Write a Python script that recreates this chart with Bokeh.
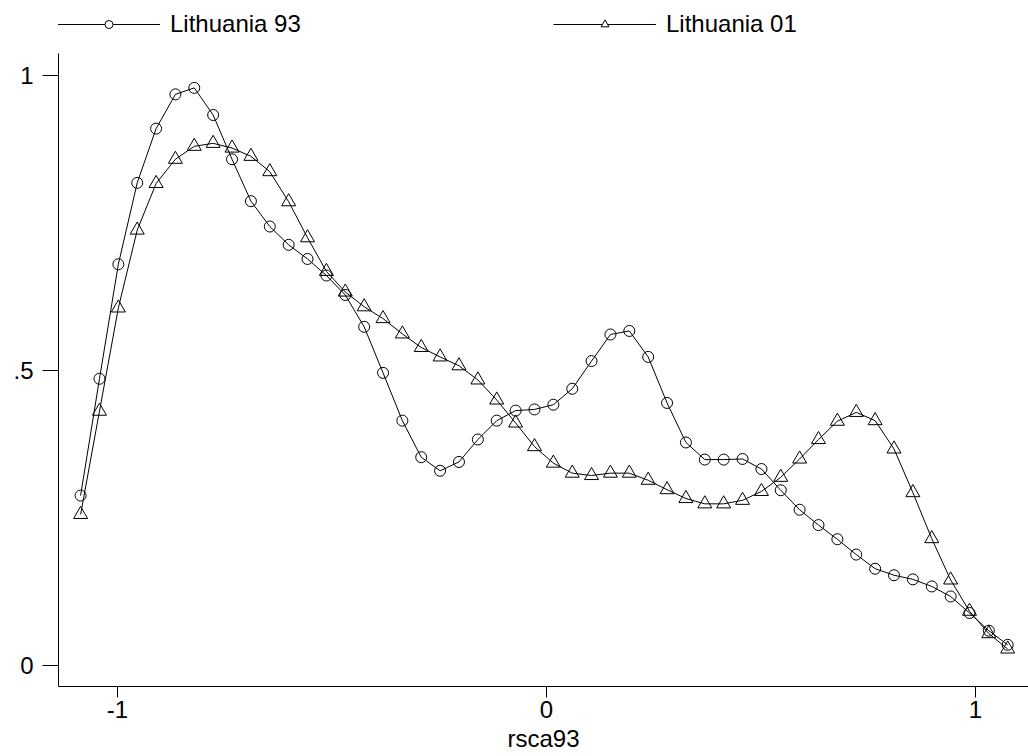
import math
from bokeh.plotting import figure
from bokeh.models import Range1d, FixedTicker, Legend, LegendItem
from bokeh.embed import file_html
from bokeh.resources import INLINE

# ---- data ----
x_grid = [-1.086, -1.042, -0.998, -0.954, -0.910, -0.865, -0.821, -0.777, -0.733, -0.689,
          -0.645, -0.601, -0.557, -0.513, -0.469, -0.425, -0.381, -0.336, -0.292, -0.248,
          -0.204, -0.160, -0.116, -0.072, -0.028, 0.016, 0.060, 0.105, 0.149, 0.193,
          0.237, 0.281, 0.325, 0.369, 0.413, 0.457, 0.501, 0.546, 0.590, 0.634,
          0.678, 0.722, 0.766, 0.810, 0.854, 0.898, 0.942, 0.986, 1.031, 1.075]

lithuania_93 = [0.288, 0.486, 0.680, 0.818, 0.910, 0.968, 0.979, 0.933, 0.858, 0.787,
                0.744, 0.713, 0.689, 0.661, 0.628, 0.574, 0.496, 0.415, 0.353, 0.330,
                0.345, 0.383, 0.415, 0.432, 0.434, 0.442, 0.469, 0.516, 0.561, 0.567,
                0.523, 0.445, 0.378, 0.349, 0.349, 0.350, 0.333, 0.297, 0.264, 0.238,
                0.214, 0.188, 0.164, 0.153, 0.146, 0.134, 0.117, 0.089, 0.059, 0.035]

lithuania_01 = [0.256, 0.431, 0.606, 0.738, 0.817, 0.858, 0.880, 0.885, 0.877, 0.863,
                0.837, 0.786, 0.725, 0.668, 0.633, 0.608, 0.588, 0.562, 0.539, 0.523,
                0.508, 0.484, 0.450, 0.411, 0.371, 0.343, 0.326, 0.322, 0.326, 0.326,
                0.314, 0.298, 0.283, 0.274, 0.274, 0.280, 0.295, 0.319, 0.350, 0.383,
                0.414, 0.429, 0.415, 0.367, 0.293, 0.215, 0.145, 0.092, 0.054, 0.028]

series_names = ["Lithuania 93", "Lithuania 01"]
x_ticks = [-1, 0, 1]
x_tick_labels = ["-1", "0", "1"]
y_ticks = [0, 0.5, 1]
y_tick_labels = ["0", ".5", "1"]
x_title = "rsca93"

FONT = "Liberation Sans"
FS = "24px"

p = figure(width=1028, height=756, output_backend="svg", toolbar_location=None,
           x_range=Range1d(-1.1375, 1.1235), y_range=Range1d(-0.0356, 1.1271),
           min_border_left=58, min_border_right=0, min_border_top=0, min_border_bottom=70)
p.grid.visible = False
p.outline_line_color = None
p.background_fill_color = "white"
p.border_fill_color = "white"

# axes
xa = p.xaxis[0]
xa.ticker = FixedTicker(ticks=x_ticks)
xa.major_label_overrides = dict(zip(x_ticks, x_tick_labels))
xa.axis_label = x_title
xa.minor_tick_line_color = None
xa.major_tick_in = 0
xa.major_tick_out = 11
xa.major_label_standoff = 3
xa.axis_label_standoff = 4
xa.axis_line_color = "black"
xa.major_tick_line_color = "black"
xa.major_label_text_font = FONT
xa.major_label_text_font_size = FS
xa.major_label_text_color = "black"
xa.axis_label_text_font = FONT
xa.axis_label_text_font_size = FS
xa.axis_label_text_font_style = "normal"
xa.axis_label_text_color = "black"

ya = p.yaxis[0]
ya.ticker = FixedTicker(ticks=y_ticks)
ya.major_label_overrides = dict(zip(y_ticks, y_tick_labels))
ya.minor_tick_line_color = None
ya.major_tick_in = 0
ya.major_tick_out = 16
ya.major_label_standoff = 9
ya.major_label_orientation = "horizontal"
ya.bounds = (-0.0356, 1.0373)
ya.axis_line_color = "black"
ya.major_tick_line_color = "black"
ya.major_label_text_font = FONT
ya.major_label_text_font_size = FS
ya.major_label_text_color = "black"

# series
p.line(x_grid, lithuania_93, line_color="black", line_width=1)
p.scatter(x_grid, lithuania_93, marker="circle", size=11, fill_color=None,
          line_color="black", line_width=1)
p.line(x_grid, lithuania_01, line_color="black", line_width=1)
p.scatter(x_grid, lithuania_01, marker="triangle", size=14, fill_color=None,
          line_color="black", line_width=1)

# legend proxies (no data drawn in plot)
nan = [math.nan]
l1 = p.line(nan, nan, line_color="black", line_width=1)
m1 = p.scatter(nan, nan, marker="circle", size=7, fill_color="white", line_color="black", line_width=1)
l2 = p.line(nan, nan, line_color="black", line_width=1)
m2 = p.scatter(nan, nan, marker="triangle", size=9, fill_color="white", line_color="black", line_width=1)

for (rends, name, loc) in [([l1, m1], series_names[0], (-1, 648)),
                           ([l2, m2], series_names[1], (495, 648))]:
    lg = Legend(items=[LegendItem(label=name, renderers=rends)], location=loc,
                orientation="horizontal", glyph_width=103, glyph_height=20,
                label_standoff=10, padding=0, margin=0, spacing=0,
                border_line_color=None, background_fill_alpha=0,
                label_text_font=FONT, label_text_font_size=FS, label_text_color="black")
    p.add_layout(lg, "center")

open("out.html", "w").write(file_html(p, INLINE))
